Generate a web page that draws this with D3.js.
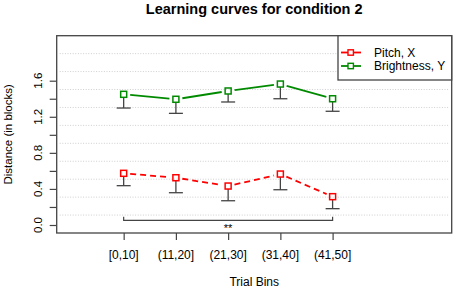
<!DOCTYPE html>
<html><head><meta charset="utf-8">
<script src="https://cdn.jsdelivr.net/npm/d3@7"></script>
<style>
html,body{margin:0;padding:0;background:#fff;}
svg text{font-family:"Liberation Sans",Arial,Helvetica,sans-serif;fill:#000;}
</style></head>
<body>
<svg id="chart" width="454" height="290"></svg>
<script>
const title = "Learning curves for condition 2";
const bins = ["[0,10]", "(11,20]", "(21,30]", "(31,40]", "(41,50]"];
const pitch = [0.573, 0.524, 0.432, 0.565, 0.314];
const pitchLower = [0.436, 0.358, 0.269, 0.391, 0.181];
const brightness = [1.449, 1.394, 1.486, 1.563, 1.400];
const brightnessLower = [1.297, 1.238, 1.364, 1.400, 1.261];
const yTicks = [0, 0.2, 0.4, 0.6, 0.8, 1.0, 1.2, 1.4, 1.6];
const yTickLabels = ["0.0", "", "0.4", "", "0.8", "", "1.2", "", "1.6"];
const seriesNames = ["Pitch, X", "Brightness, Y"];
const sigFrom = 0, sigTo = 4, sigLevel = 0.052, sigLabel = "**";

const svg = d3.select("#chart");
const L = 56.7, R = 451.7, T = 35.7, B = 233;
const x = d3.scaleLinear().domain([-1.282, 6.28]).range([L, R]);
const y = d3.scaleLinear().domain([-0.0887, 2.099]).range([B, T]);

// grid
const dom = y.domain();
const gridVals = d3.range(1, 11).map(k => dom[0] + k * (dom[1] - dom[0]) / 11);
svg.append("g").selectAll("line").data(gridVals).join("line")
  .attr("x1", L + 3).attr("x2", R - 2)
  .attr("y1", d => y(d)).attr("y2", d => y(d))
  .attr("stroke", "#cfcfcf").attr("stroke-width", 1).attr("stroke-dasharray", "1,1.6");

// axes
const yAxis = d3.axisLeft(y).tickValues(yTicks).tickSize(7).tickFormat("");
const gy = svg.append("g").attr("transform", `translate(${L},0)`).call(yAxis);
gy.select(".domain").remove();
gy.selectAll("line").attr("stroke", "#444").attr("stroke-width", 1.2);
svg.append("g").selectAll("text").data(yTicks.map((v, i) => [v, yTickLabels[i]]).filter(d => d[1]))
  .join("text")
  .attr("transform", d => `translate(42,${y(d[0])}) rotate(-90)`)
  .attr("text-anchor", "middle").attr("font-size", 11.5).text(d => d[1]);

const xAxis = d3.axisBottom(x).tickValues(d3.range(bins.length)).tickSize(7).tickFormat("");
const gx = svg.append("g").attr("transform", `translate(0,${B})`).call(xAxis);
gx.select(".domain").remove();
gx.selectAll("line").attr("stroke", "#444").attr("stroke-width", 1.2);
svg.append("g").selectAll("text").data(bins).join("text")
  .attr("x", (d, i) => x(i)).attr("y", 259).attr("text-anchor", "middle")
  .attr("font-size", 12).text(d => d);

// box
svg.append("rect").attr("x", L).attr("y", T).attr("width", R - L).attr("height", B - T)
  .attr("fill", "none").attr("stroke", "#444").attr("stroke-width", 1.3);

// significance bracket
const sb = svg.append("g");
sb.append("path")
  .attr("d", `M${x(sigFrom)},${y(sigLevel + 0.04)}V${y(sigLevel)}H${x(sigTo)}V${y(sigLevel + 0.04)}`)
  .attr("fill", "none").attr("stroke", "#444").attr("stroke-width", 1.2);
sb.append("text").attr("x", (x(sigFrom) + x(sigTo)) / 2).attr("y", 232)
  .attr("text-anchor", "middle").attr("font-size", 11).text(sigLabel);

function drawSeries(vals, lower, color, dash) {
  const g = svg.append("g");
  // error bars
  vals.forEach((v, i) => {
    g.append("line").attr("x1", x(i)).attr("x2", x(i)).attr("y1", y(v) + 3).attr("y2", y(lower[i]))
      .attr("stroke", "#444").attr("stroke-width", 1.3);
    g.append("line").attr("x1", x(i) - 7).attr("x2", x(i) + 7).attr("y1", y(lower[i])).attr("y2", y(lower[i]))
      .attr("stroke", "#444").attr("stroke-width", 1.3);
  });
  // lines with gaps (type "b")
  for (let i = 0; i < vals.length - 1; i++) {
    const x0 = x(i), y0 = y(vals[i]), x1 = x(i + 1), y1 = y(vals[i + 1]);
    const dx = x1 - x0, dy = y1 - y0, len = Math.hypot(dx, dy), gap = 6.5;
    g.append("line")
      .attr("x1", x0 + dx * gap / len).attr("y1", y0 + dy * gap / len)
      .attr("x2", x1 - dx * gap / len).attr("y2", y1 - dy * gap / len)
      .attr("stroke", color).attr("stroke-width", 1.8).attr("stroke-dasharray", dash);
  }
  g.selectAll("rect.pt").data(vals).join("rect").attr("class", "pt")
    .attr("x", (d, i) => x(i) - 3).attr("y", d => y(d) - 3).attr("width", 6).attr("height", 6)
    .attr("fill", "none").attr("stroke", color).attr("stroke-width", 1.5);
}
drawSeries(pitch, pitchLower, "#ff0000", "6,4");
drawSeries(brightness, brightnessLower, "#008a00", null);

// legend
const lg = svg.append("g");
lg.append("rect").attr("x", 338).attr("y", T).attr("width", R - 338).attr("height", 80 - T)
  .attr("fill", "#fff").attr("stroke", "#444").attr("stroke-width", 1.3);
const lcolors = ["#ff0000", "#008a00"];
seriesNames.forEach((n, i) => {
  const cy = 52.5 + i * 13.5;
  lg.append("line").attr("x1", 341).attr("x2", 361).attr("y1", cy).attr("y2", cy)
    .attr("stroke", lcolors[i]).attr("stroke-width", 1.8);
  lg.append("rect").attr("x", 348).attr("y", cy - 2.7).attr("width", 5.4).attr("height", 5.4)
    .attr("fill", "#fff").attr("stroke", lcolors[i]).attr("stroke-width", 1.4);
  lg.append("text").attr("x", 374).attr("y", cy + 4.3).attr("font-size", 12).text(n);
});

// titles
svg.append("text").attr("x", (L + R) / 2).attr("y", 13.5).attr("text-anchor", "middle")
  .attr("font-size", 14.5).attr("font-weight", "bold").text(title);
svg.append("text").attr("x", (L + R) / 2).attr("y", 286).attr("text-anchor", "middle")
  .attr("font-size", 12).text("Trial Bins");
svg.append("text").attr("transform", `translate(12,${(T + B) / 2}) rotate(-90)`)
  .attr("text-anchor", "middle").attr("font-size", 11.5).text("Distance (in blocks)");
</script>
</body></html>
